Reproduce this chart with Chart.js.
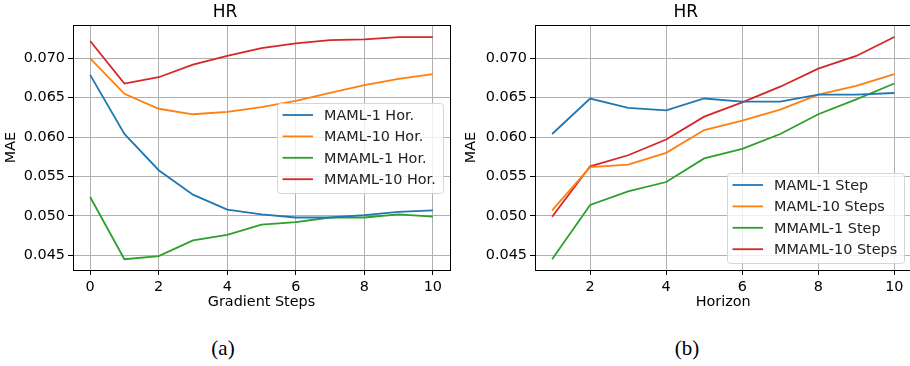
<!DOCTYPE html>
<html>
<head>
  <title>HR MAE</title>
  <style>
    body { margin: 0; width: 910px; height: 366px; overflow: hidden; background: #fff; position: relative; }
    .panel { position: absolute; top: 0; }
    .cap { position: absolute; top: 336px; font-family: "Liberation Serif", serif; font-size: 21px; color: #000; transform: translateX(-50%); }
  </style>
</head>
<body>
  <div class="panel" style="left:0px"><canvas id="chartA" width="460" height="315"></canvas></div>
  <div class="panel" style="left:460px"><canvas id="chartB" width="452" height="315"></canvas></div>
  <div class="cap" style="left:223px">(a)</div>
  <div class="cap" style="left:687px">(b)</div>

  <script src="https://cdn.jsdelivr.net/npm/chart.js@4.4.1/dist/chart.umd.min.js"></script>
  <script>
    // values
    let gradSteps = [0, 1, 2, 3, 4, 5, 6, 7, 8, 9, 10];
    let maml1Hor   = [0.0679, 0.0604, 0.0558, 0.0527, 0.0508, 0.0502, 0.0498, 0.0498, 0.0501, 0.0505, 0.0507];
    let maml10Hor  = [0.0700, 0.0655, 0.0636, 0.0629, 0.0632, 0.0638, 0.0646, 0.0656, 0.0666, 0.0674, 0.0680];
    let mmaml1Hor  = [0.0524, 0.0445, 0.0449, 0.0469, 0.0476, 0.0489, 0.0492, 0.0498, 0.0498, 0.0502, 0.0499];
    let mmaml10Hor = [0.0722, 0.0668, 0.0676, 0.0692, 0.0703, 0.0713, 0.0719, 0.0723, 0.0724, 0.0727, 0.0727];

    let horizons = [1, 2, 3, 4, 5, 6, 7, 8, 9, 10];
    let maml1Step    = [0.0604, 0.0649, 0.0637, 0.0634, 0.0649, 0.0645, 0.0645, 0.0654, 0.0654, 0.0656];
    let maml10Steps  = [0.0507, 0.0562, 0.0565, 0.0580, 0.0609, 0.0621, 0.0635, 0.0654, 0.0665, 0.0680];
    let mmaml1Step   = [0.0445, 0.0514, 0.0531, 0.0543, 0.0573, 0.0585, 0.0604, 0.0629, 0.0648, 0.0668];
    let mmaml10Steps = [0.0499, 0.0563, 0.0577, 0.0597, 0.0626, 0.0644, 0.0664, 0.0687, 0.0703, 0.0727];

    let yTicks = [0.045, 0.050, 0.055, 0.060, 0.065, 0.070];
    let xTicksA = [0, 2, 4, 6, 8, 10];
    let xTicksB = [2, 4, 6, 8, 10];

    let colors = ['#1f77b4', '#ff7f0e', '#2ca02c', '#d62728'];
    let FONT = "'DejaVu Sans', sans-serif";

    function points(xs, ys) {
      return xs.map((x, i) => ({ x: x, y: ys[i] }));
    }

    // box round the plot area, like matplotlib spines
    let frame = {
      id: 'frame',
      afterDatasetsDraw(chart) {
        let a = chart.chartArea, ctx = chart.ctx;
        ctx.save();
        ctx.strokeStyle = '#000';
        ctx.lineWidth = 1;
        ctx.strokeRect(Math.round(a.left) + 0.5, Math.round(a.top) + 0.5, Math.round(a.right - a.left), Math.round(a.bottom - a.top));
        ctx.restore();
      }
    };

    // matplotlib style legend box
    let boxLegend = {
      id: 'boxLegend',
      afterDatasetsDraw(chart, args, opts) {
        let ctx = chart.ctx;
        let x = opts.left, y = opts.top, w = opts.width, h = opts.height;
        ctx.save();
        ctx.beginPath();
        ctx.roundRect(x + 0.5, y + 0.5, w, h, 3);
        ctx.fillStyle = 'rgba(255,255,255,0.8)';
        ctx.fill();
        ctx.strokeStyle = '#d6d6d6';
        ctx.lineWidth = 1;
        ctx.stroke();
        ctx.font = '14.4px ' + FONT;
        ctx.textBaseline = 'middle';
        ctx.textAlign = 'left';
        chart.data.datasets.forEach((ds, i) => {
          let ry = y + 12 + i * 21.4;
          ctx.beginPath();
          ctx.moveTo(x + 5.5, ry);
          ctx.lineTo(x + 36, ry);
          ctx.strokeStyle = ds.borderColor;
          ctx.lineWidth = 1.8;
          ctx.stroke();
          ctx.fillStyle = '#222';
          ctx.fillText(ds.label, x + 47, ry + 1);
        });
        ctx.restore();
      }
    };

    function makeChart(id, xs, series, names, xTicks, xMin, xMax, xTitle, yWidth, legendPos, padRight) {
      let ctx = document.getElementById(id).getContext('2d');
      return new Chart(ctx, {
        type: 'line',
        data: {
          datasets: series.map((s, i) => ({
            label: names[i],
            data: points(xs, s),
            borderColor: colors[i],
            backgroundColor: colors[i],
            borderWidth: 1.8,
            pointRadius: 0,
            tension: 0,
            fill: false
          }))
        },
        options: {
          responsive: false,
          animation: false,
          devicePixelRatio: 1,
          layout: { padding: { left: 0, top: 0, right: padRight, bottom: 0 } },
          plugins: {
            legend: { display: false },
            tooltip: { enabled: false },
            title: {
              display: true,
              text: 'HR',
              color: '#000',
              font: { family: FONT, size: 17, weight: 'normal' },
              padding: { top: 2, bottom: 2.6 }
            },
            boxLegend: legendPos
          },
          scales: {
            x: {
              type: 'linear',
              min: xMin,
              max: xMax,
              afterBuildTicks: (scale) => { scale.ticks = xTicks.map(v => ({ value: v })); },
              afterFit: (scale) => { scale.height = 45; },
              ticks: {
                color: '#000',
                font: { family: FONT, size: 14.4 },
                padding: 4,
                maxRotation: 0,
                callback: (v) => String(v)
              },
              grid: { color: '#b0b0b0', lineWidth: 1, tickLength: 5, tickColor: '#000' },
              border: { display: true, color: '#000', width: 1 },
              title: {
                display: true,
                text: xTitle,
                color: '#000',
                font: { family: FONT, size: 14.4 },
                padding: { top: 4, bottom: 4 }
              }
            },
            y: {
              min: 0.043135,
              max: 0.07423,
              afterBuildTicks: (scale) => { scale.ticks = yTicks.map(v => ({ value: v })); },
              afterFit: (scale) => { scale.width = yWidth; },
              ticks: {
                color: '#000',
                font: { family: FONT, size: 14.4 },
                padding: 3,
                callback: (v) => v.toFixed(3)
              },
              grid: { color: '#b0b0b0', lineWidth: 1, tickLength: 5, tickColor: '#000' },
              border: { display: true, color: '#000', width: 1 },
              title: {
                display: true,
                text: 'MAE',
                color: '#000',
                font: { family: FONT, size: 14.4 },
                padding: { top: 2.4, bottom: 0 }
              }
            }
          }
        },
        plugins: [frame, boxLegend]
      });
    }

    makeChart('chartA', gradSteps, [maml1Hor, maml10Hor, mmaml1Hor, mmaml10Hor],
      ['MAML-1 Hor.', 'MAML-10 Hor.', 'MMAML-1 Hor.', 'MMAML-10 Hor.'],
      xTicksA, -0.5, 10.5, 'Gradient Steps', 73,
      { left: 277, top: 103, width: 166, height: 90 }, 10);

    makeChart('chartB', horizons, [maml1Step, maml10Steps, mmaml1Step, mmaml10Steps],
      ['MAML-1 Step', 'MAML-10 Steps', 'MMAML-1 Step', 'MMAML-10 Steps'],
      xTicksB, 0.55, 10.45, 'Horizon', 75,
      { left: 267, top: 173, width: 177, height: 90 }, 0.6);
  </script>
</body>
</html>
